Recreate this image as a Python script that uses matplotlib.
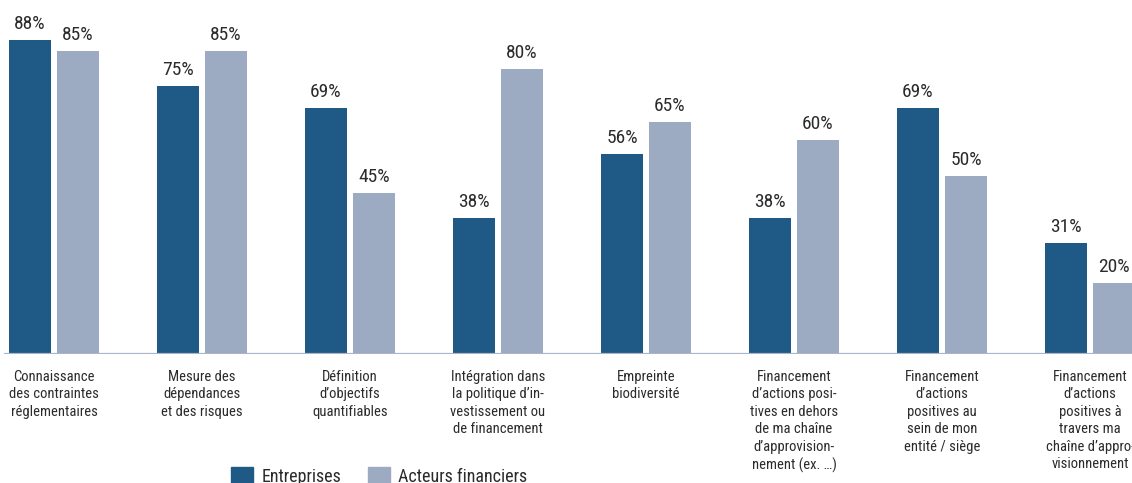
import numpy as np
import matplotlib.pyplot as plt
from matplotlib.patches import Patch

categories = [
    "Connaissance\ndes contraintes\nréglementaires",
    "Mesure des\ndépendances\net des risques",
    "Définition\nd\u2019objectifs\nquantifiables",
    "Intégration dans\nla politique d\u2019in-\nvestissement ou\nde financement",
    "Empreinte\nbiodiversité",
    "Financement\nd\u2019actions posi-\ntives en dehors\nde ma chaîne\nd\u2019approvision-\nnement (ex. \u2026)",
    "Financement\nd\u2019actions\npositives au\nsein de mon\nentité / siège",
    "Financement\nd\u2019actions\npositives à\ntravers ma\nchaîne d\u2019appro-\nvisionnement",
]
entreprises = [88, 75, 69, 38, 56, 38, 69, 31]
acteurs = [85, 85, 45, 80, 65, 60, 50, 20]
series_names = ["Entreprises", "Acteurs financiers"]

dark = "#1f5a87"
light = "#9caac2"
txt = "#2b2b2b"

plt.rcParams['font.family'] = ['Roboto Condensed', 'DejaVu Sans']

fig = plt.figure(figsize=(11.32, 4.83), dpi=100)
ax = fig.add_axes([0, 0.267, 1, 0.733])

x = np.arange(len(categories))
w = 0.284
off = 0.162
b1 = ax.bar(x - off, entreprises, w, color=dark, zorder=2)
b2 = ax.bar(x + off, acteurs, w, color=light, zorder=2)

# percentage on top of each bar
for bars, vals in ((b1, entreprises), (b2, acteurs)):
    for r, v in zip(bars, vals):
        ax.annotate(f"{v}%", (r.get_x() + r.get_width() / 2, v),
                    xytext=(0, 5), textcoords="offset points",
                    ha="center", va="bottom", fontsize=14, color=txt)

for xi, lab in zip(x, categories):
    ax.text(xi, -4.4, lab, ha="center", va="top", fontsize=10.5,
            color=txt, linespacing=1.32)

ax.axhline(0, xmin=0.004, color="#a9b5c9", lw=1.6, zorder=3)
ax.set_xlim(-0.365, 7.284)
ax.set_ylim(0, 99.2)
ax.axis("off")

handles = [Patch(color=dark), Patch(color=light)]
fig.legend(handles, series_names, loc="upper left",
           bbox_to_anchor=(0.190, 0.067), ncol=2, frameon=False,
           fontsize=13, handlelength=1.22, handleheight=1.22,
           columnspacing=1.5, handletextpad=0.45, labelcolor=txt)

fig.savefig("out.png", dpi=100)
